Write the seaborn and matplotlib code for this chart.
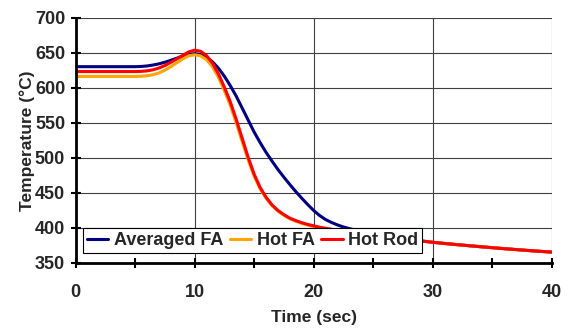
import matplotlib
matplotlib.use("Agg")
import matplotlib.pyplot as plt
import seaborn as sns
import pandas as pd
from matplotlib.ticker import MultipleLocator

time_s = [0, 1, 2, 3, 4, 5,
          5.5, 6, 6.5, 7, 7.5, 8, 8.5, 9, 9.5, 10, 10.5, 11, 11.5, 12, 12.5, 13, 13.5, 14,
          14.5, 15, 15.5, 16, 16.5, 17, 17.5, 18, 18.5, 19, 19.5, 20, 20.5, 21, 21.5, 22,
          22.5, 23, 23.5, 24,
          25, 26, 27, 28, 29, 30, 31, 32, 33, 34, 35, 36, 37, 38, 39, 40]
avg_fa = [630, 630, 630, 630, 630, 630,
          630.3, 631, 632.3, 634, 636.3, 639, 642, 645, 647.5, 648.5, 647.5, 643.5, 637, 628,
          616.5, 603, 588, 571, 554, 537, 522, 508, 495.5, 483.5, 472.5, 462, 452, 442.5,
          433.5, 425, 417.8, 412, 407.8, 404.3, 401.4, 399, 396.9, 395,
          391.8, 389, 386.5, 384, 381.5, 379.5, 377.8, 376.2, 374.7, 373.2, 371.8, 370.4,
          369.1, 367.8, 366.6, 365.5]
hot_fa = [616, 616, 616, 616, 616, 616,
          616.3, 617, 618.5, 621, 625, 630, 635.5, 641, 645.5, 647, 645.5, 640, 630, 615,
          596, 575, 550, 523, 497, 474, 456, 442.5, 432, 424, 418, 413, 409.5, 406.5, 404,
          402, 400.3, 398.8, 397.4, 396, 394.8, 393.7, 392.7, 391.8,
          390, 388, 386, 383.8, 381.4, 379.5, 377.8, 376.2, 374.7, 373.2, 371.8, 370.4,
          369.1, 367.8, 366.6, 365.5]
hot_rod = [623, 623, 623, 623, 623, 623,
           623.3, 624, 625.5, 628, 631.5, 636, 641, 646, 651, 653.5, 652, 646, 635, 620,
           601, 580, 555, 528, 501, 477, 458, 444, 433, 425, 419, 414, 410.5, 407.5, 405,
           403, 401, 399.5, 398, 396.5, 395.3, 394.2, 393.2, 392.2,
           390.3, 388.3, 386.2, 384, 381.5, 379.5, 377.8, 376.2, 374.7, 373.2, 371.8, 370.4,
           369.1, 367.8, 366.6, 365.5]
series_names = ["Averaged FA", "Hot FA", "Hot Rod"]
colors = ["#000080", "#FFA500", "#FF0000"]

df = pd.concat([
    pd.DataFrame({"Time": time_s, "Temp": vals, "Series": name})
    for name, vals in zip(series_names, [avg_fa, hot_fa, hot_rod])
])

sns.set_style("white")
plt.rcParams["font.family"] = ["Liberation Sans", "DejaVu Sans"]
plt.rcParams["font.weight"] = "bold"

fig = plt.figure(figsize=(5.68, 3.32), dpi=100)
ax = fig.add_axes([0.133, 0.208, 0.838, 0.739])

sns.lineplot(data=df, x="Time", y="Temp", hue="Series", hue_order=series_names,
             palette=colors, linewidth=2.2, ax=ax)

ax.set_xlim(0, 40)
ax.set_ylim(350, 700)
ax.xaxis.set_major_locator(MultipleLocator(10))
ax.xaxis.set_minor_locator(MultipleLocator(5))
ax.yaxis.set_major_locator(MultipleLocator(50))
ax.grid(True, which="major", color="#404040", linewidth=0.8)
ax.set_axisbelow(True)

for s in ["top", "right"]:
    ax.spines[s].set_visible(False)
for s in ["left", "bottom"]:
    ax.spines[s].set_color("black")
    ax.spines[s].set_linewidth(2)

ax.tick_params(axis="both", which="both", direction="inout", color="black", width=1.5)
ax.tick_params(axis="y", which="major", length=7, pad=4, labelsize=13, left=True)
ax.tick_params(axis="x", which="major", length=7, pad=12, labelsize=13, bottom=True)
ax.tick_params(axis="x", which="minor", length=7, bottom=True)
for lbl in ax.get_xticklabels() + ax.get_yticklabels():
    lbl.set_fontweight("bold")

ax.set_xlabel("Time (sec)", fontsize=12.5, fontweight="bold", labelpad=6)
ax.set_ylabel("Temperature (°C)", fontsize=12.5, fontweight="bold", labelpad=0)

leg = ax.legend(loc="lower left", bbox_to_anchor=(0.016, 0.042), borderaxespad=0,
                ncol=3, frameon=True, fancybox=False, handlelength=1.2,
                handletextpad=0.3, columnspacing=0.35, borderpad=0.2,
                prop={"weight": "bold", "size": 13})
leg.get_frame().set_edgecolor("black")
leg.get_frame().set_linewidth(0.8)
leg.get_frame().set_alpha(1)

fig.savefig("out.png", dpi=100)
